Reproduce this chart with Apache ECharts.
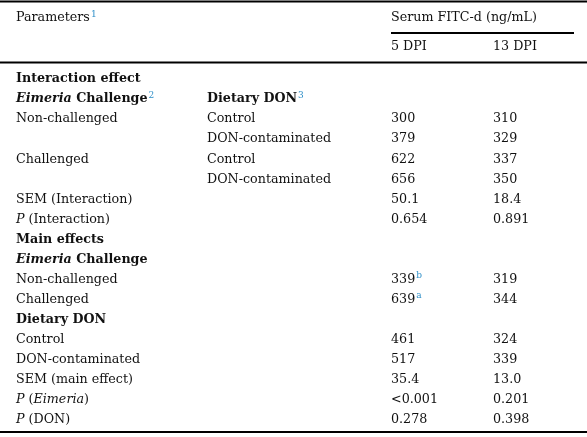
<!DOCTYPE html>
<html>
<head>
<meta charset="utf-8">
<script src="https://cdn.jsdelivr.net/npm/echarts@6/dist/echarts.min.js"></script>
<style>
html,body{margin:0;padding:0;background:#fff;}
#c{width:587px;height:437px;}
</style>
</head>
<body>
<div id="c"></div>
<script>
// ---- Table content ----
var headerParams = 'Parameters{sup|1}';
var headerGroup = 'Serum FITC-d (ng/mL)';
var headerCols = ['5 DPI', '13 DPI'];

var colFactor = [
  '{b|Interaction effect}',
  '{bi|Eimeria}{b| Challenge}{sup|2}',
  'Non-challenged',
  '',
  'Challenged',
  '',
  'SEM (Interaction)',
  '{i|P} (Interaction)',
  '{b|Main effects}',
  '{bi|Eimeria}{b| Challenge}',
  'Non-challenged',
  'Challenged',
  '{b|Dietary DON}',
  'Control',
  'DON-contaminated',
  'SEM (main effect)',
  '{i|P} ({i|Eimeria})',
  '{i|P} (DON)'
];
var colDiet = [
  '', '{b|Dietary DON}{sup|3}', 'Control', 'DON-contaminated', 'Control', 'DON-contaminated',
  '', '', '', '', '', '', '', '', '', '', '', ''
];
var dpi5 = ['', '', '300', '379', '622', '656', '50.1', '0.654', '', '', '339{sup|b}', '639{sup|a}', '', '461', '517', '35.4', '<0.001', '0.278'];
var dpi13 = ['', '', '310', '329', '337', '350', '18.4', '0.891', '', '', '319', '344', '', '324', '339', '13.0', '0.201', '0.398'];

// ---- Layout / style ----
var FONT = 'DejaVu Serif';
var SIZE = 12.7;
var rich = {
  b: {fontFamily: FONT, fontSize: SIZE, fontWeight: 'bold', fill: '#111'},
  i: {fontFamily: FONT, fontSize: SIZE, fontStyle: 'italic', fill: '#111'},
  bi: {fontFamily: FONT, fontSize: SIZE, fontStyle: 'italic', fontWeight: 'bold', fill: '#111'},
  sup: {fontFamily: FONT, fontSize: 9, fill: '#2f8fc8', verticalAlign: 'top', padding: [0, 0, 7, 1]}
};
var colX = [16, 207, 391, 493];
var rowY0 = 79, rowH = 20.05;

function txt(x, y, s) {
  return {
    type: 'text', x: x, y: y, silent: true,
    style: {text: s, fontFamily: FONT, fontSize: SIZE, fill: '#111', rich: rich,
            textVerticalAlign: 'middle', verticalAlign: 'middle', align: 'left'}
  };
}
function line(x1, y1, x2, y2, w) {
  return {type: 'line', silent: true, shape: {x1: x1, y1: y1, x2: x2, y2: y2},
          style: {stroke: '#000', lineWidth: w}};
}

var els = [];
els.push(line(0, 1.5, 587, 1.5, 2));
els.push(line(391, 33, 574, 33, 2));
els.push(line(0, 62.5, 587, 62.5, 2));
els.push(line(0, 432, 587, 432, 2));
els.push(txt(colX[0], 18, headerParams));
els.push(txt(colX[2], 18, headerGroup));
els.push(txt(colX[2], 47, headerCols[0]));
els.push(txt(colX[3], 47, headerCols[1]));

var cols = [colFactor, colDiet, dpi5, dpi13];
for (var r = 0; r < colFactor.length; r++) {
  var y = rowY0 + r * rowH;
  for (var c = 0; c < cols.length; c++) {
    if (cols[c][r]) els.push(txt(colX[c], y, cols[c][r]));
  }
}

var chart = echarts.init(document.getElementById('c'), null, {renderer: 'canvas'});
chart.setOption({
  backgroundColor: '#fff',
  animation: false,
  graphic: {elements: els}
});
</script>
</body>
</html>
